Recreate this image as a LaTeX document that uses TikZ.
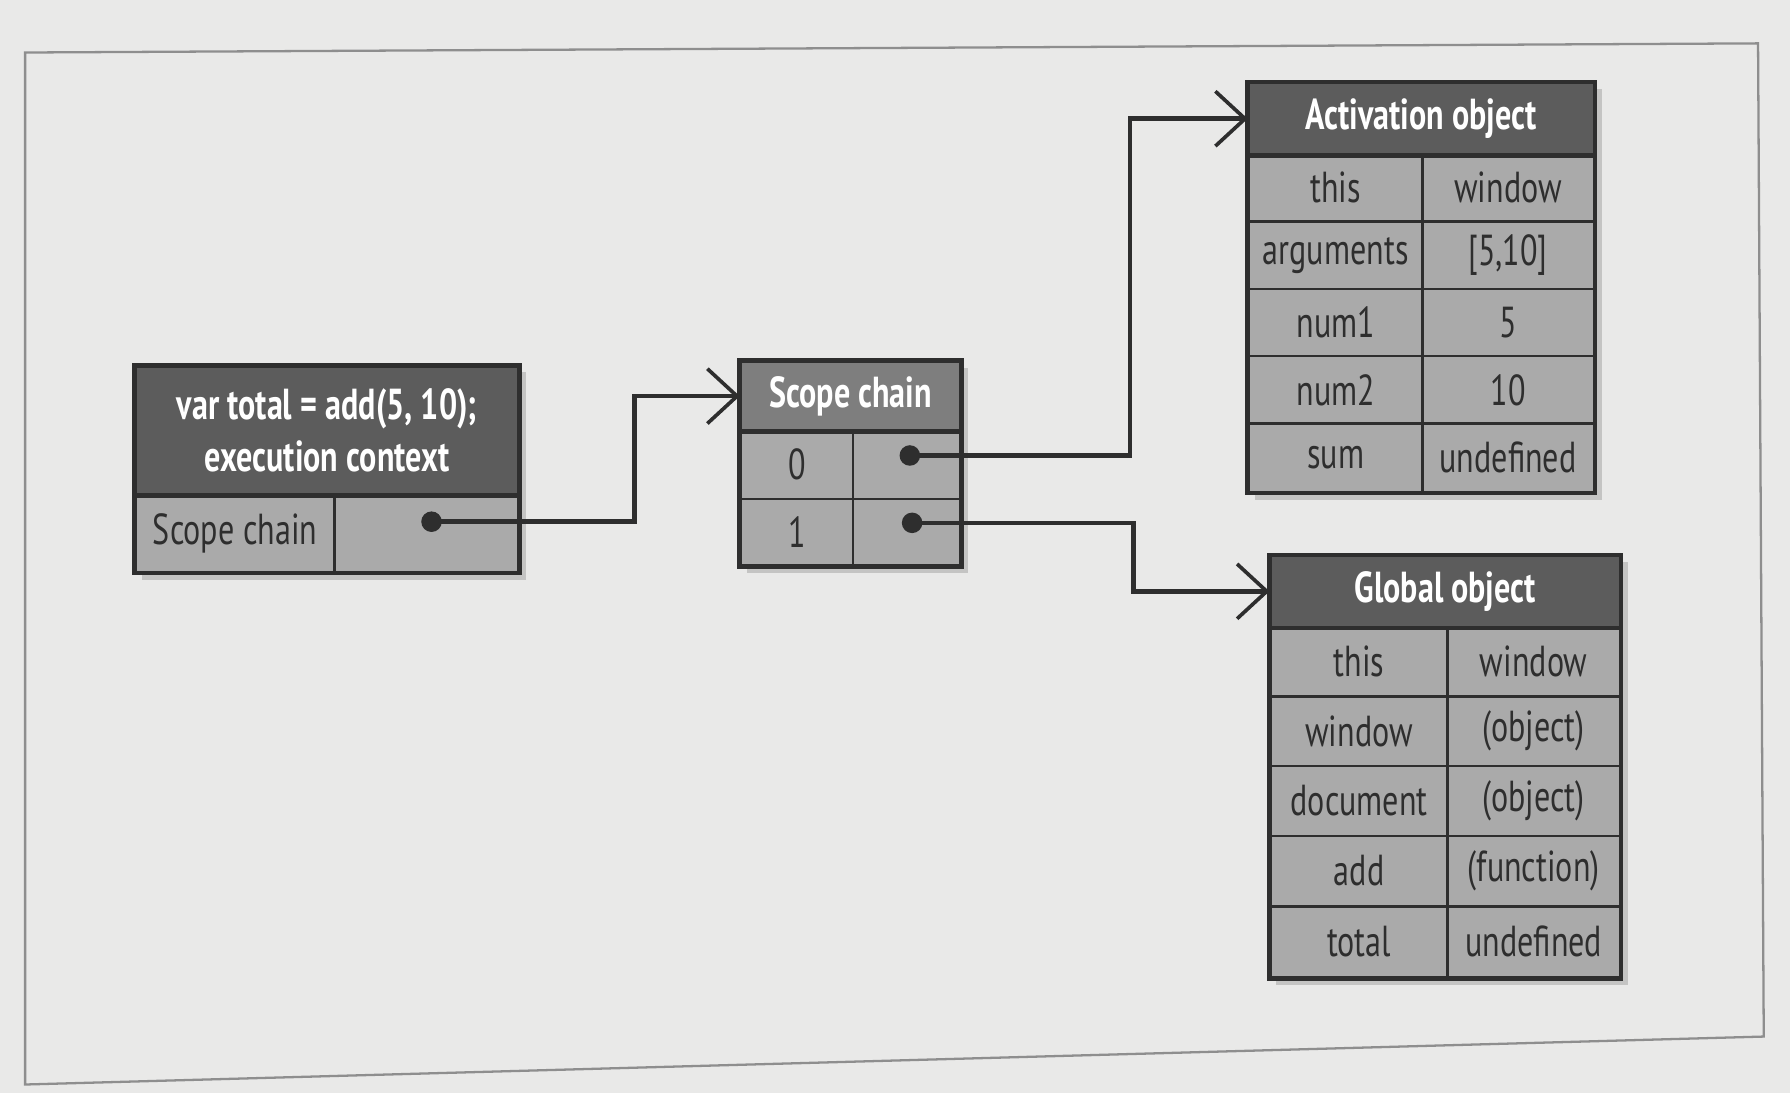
\documentclass[tikz,border=0pt]{standalone}
\usepackage{fontspec}
\setmainfont{PT Sans}[FakeStretch=0.74]
\usetikzlibrary{arrows.meta,fit,shadows,calc}
\pgfdeclarelayer{paper}
\pgfdeclarelayer{background}
\pgfsetlayers{paper,background,main}
\definecolor{paperc}{HTML}{E9E9E8}
\definecolor{framec}{HTML}{8E8E8E}
\definecolor{headc}{HTML}{5C5C5C}
\definecolor{headl}{HTML}{7E7E7E}
\definecolor{cellc}{HTML}{AAAAAA}
\definecolor{inkc}{HTML}{2E2E2E}
\tikzset{
  x=0.5pt, y=-0.5pt,
  cellbox/.style={draw=inkc, line width=1pt, fill=cellc, text=inkc, inner sep=0pt,
    anchor=north west, font=\fontsize{19}{22}\selectfont},
  headbox/.style={cellbox, fill=headc, text=white, font=\fontsize{19}{23}\selectfont\bfseries, align=center},
  headlight/.style={headbox, fill=headl},
  frameline/.style={draw=inkc, line width=2pt, inner sep=0pt},
  shadowbox/.style={fill=cellc, inner sep=0pt, drop shadow={opacity=0.35, shadow xshift=3pt, shadow yshift=-3pt}},
  ptr/.style={circle, fill=inkc, inner sep=0pt, minimum size=9pt},
  conn/.style={draw=inkc, line width=2pt, -{Straight Barb[length=13pt,width=24pt,line width=1.6pt]}},
}
\newcommand\cellat[7]{% name, style, x, y, w(px), h(px), text
  \node[#2, minimum width=#5*0.5pt, minimum height=#6*0.5pt] (#1) at (#3,#4) {#7};}
\begin{document}
\begin{tikzpicture}
\useasboundingbox (0,0) rectangle (1568,957);
\begin{pgfonlayer}{paper}
  \fill[paperc] (0,0) rectangle (1568,957);
  \draw[framec, line width=1pt] (22,46) -- (1540,38) -- (1545,908) -- (22,950) -- cycle;
\end{pgfonlayer}

% execution context
\cellat{exechead}{headbox}{118}{320}{335}{112}{var total = add(5, 10);\\execution context}
\cellat{execsc}{cellbox}{118}{432}{174}{68}{Scope chain}
\cellat{execptr}{cellbox}{292}{432}{161}{68}{}
\node[ptr] (d0) at (378,457) {};

% scope chain
\cellat{schead}{headlight}{648}{316}{192}{60}{Scope chain}
\cellat{sc0}{cellbox}{648}{376}{98}{60}{0}
\cellat{sc0p}{cellbox}{746}{376}{94}{60}{}
\cellat{sc1}{cellbox}{648}{436}{98}{58}{1}
\cellat{sc1p}{cellbox}{746}{436}{94}{58}{}
\node[ptr] (d1) at (797,399) {};
\node[ptr] (d2) at (799,458) {};

% activation object
\cellat{acthead}{headbox}{1093}{72}{302}{62}{Activation object}
\cellat{a1k}{cellbox}{1093}{134}{152}{59}{this}
\cellat{a1v}{cellbox}{1245}{134}{150}{59}{window}
\cellat{a2k}{cellbox}{1093}{193}{152}{59}{arguments}
\cellat{a2v}{cellbox}{1245}{193}{150}{59}{[5,10]}
\cellat{a3k}{cellbox}{1093}{252}{152}{59}{num1}
\cellat{a3v}{cellbox}{1245}{252}{150}{59}{5}
\cellat{a4k}{cellbox}{1093}{311}{152}{59}{num2}
\cellat{a4v}{cellbox}{1245}{311}{150}{59}{10}
\cellat{a5k}{cellbox}{1093}{370}{152}{60}{sum}
\cellat{a5v}{cellbox}{1245}{370}{150}{60}{undefined}

% global object
\cellat{globhead}{headbox}{1112}{486}{306}{62}{Global object}
\cellat{g1k}{cellbox}{1112}{548}{155}{61}{this}
\cellat{g1v}{cellbox}{1267}{548}{151}{61}{window}
\cellat{g2k}{cellbox}{1112}{609}{155}{61}{window}
\cellat{g2v}{cellbox}{1267}{609}{151}{61}{(object)}
\cellat{g3k}{cellbox}{1112}{670}{155}{61}{document}
\cellat{g3v}{cellbox}{1267}{670}{151}{61}{(object)}
\cellat{g4k}{cellbox}{1112}{731}{155}{62}{add}
\cellat{g4v}{cellbox}{1267}{731}{151}{62}{(function)}
\cellat{g5k}{cellbox}{1112}{793}{155}{62}{total}
\cellat{g5v}{cellbox}{1267}{793}{151}{62}{undefined}

% outer frames with shadows
\begin{pgfonlayer}{background}
  \node[shadowbox, fit=(exechead)(execptr)] {};
  \node[shadowbox, fit=(schead)(sc1p)] {};
  \node[shadowbox, fit=(acthead)(a5v)] {};
  \node[shadowbox, fit=(globhead)(g5v)] {};
\end{pgfonlayer}
\node[frameline, fit=(exechead)(execptr)] (exec) {};
\node[frameline, fit=(schead)(sc1p)] (scope) {};
\node[frameline, fit=(acthead)(a5v)] (act) {};
\node[frameline, fit=(globhead)(g5v)] (glob) {};
\draw[draw=inkc, line width=2pt] (exechead.south west) -- (exechead.south east);
\draw[draw=inkc, line width=2pt] (schead.south west) -- (schead.south east);
\draw[draw=inkc, line width=2pt] (acthead.south west) -- (acthead.south east);
\draw[draw=inkc, line width=2pt] (globhead.south west) -- (globhead.south east);

% connectors
\coordinate (b0) at (556,457);
\coordinate (b1) at (990,399);
\coordinate (b2) at (993,458);
\draw[conn] (d0.center) -- (b0) |- (schead.west);
\draw[conn] (d1.center) -- (b1) |- (acthead.west);
\draw[conn] (d2.center) -- (b2) |- (globhead.west);
\end{tikzpicture}
\end{document}
